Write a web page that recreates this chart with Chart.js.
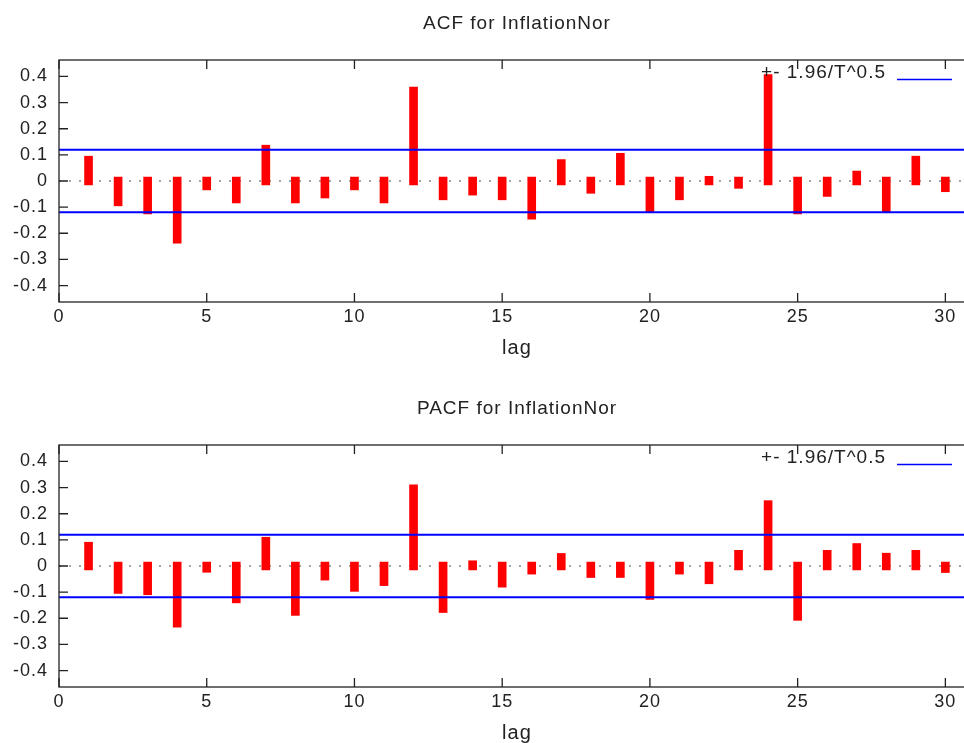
<!DOCTYPE html>
<html>
<head>
<meta charset="utf-8">
<title>ACF / PACF for InflationNor</title>
<script src="https://cdn.jsdelivr.net/npm/chart.js@4.4.0/dist/chart.umd.min.js"></script>
<style>
  html, body { margin: 0; padding: 0; background: #fff; overflow: hidden; }
  .box { position: absolute; left: 0; width: 1034px; height: 385px; }
</style>
</head>
<body>
<div class="box" style="top:0"><canvas id="acfChart"></canvas></div>
<div class="box" style="top:385px"><canvas id="pacfChart"></canvas></div>
<script>
// lags 1..30
const lags = [1, 2, 3, 4, 5, 6, 7, 8, 9, 10, 11, 12, 13, 14, 15,
  16, 17, 18, 19, 20, 21, 22, 23, 24, 25, 26, 27, 28, 29, 30];

const acfValues = [0.080, -0.080, -0.111, -0.223, -0.019, -0.069, 0.122, -0.069, -0.050, -0.019,
  -0.069, 0.344, -0.057, -0.039, -0.057, -0.131, 0.067, -0.032, 0.091, -0.103,
  -0.057, 0.003, -0.013, 0.392, -0.111, -0.044, 0.023, -0.103, 0.080, -0.026];

const pacfValues = [0.076, -0.090, -0.095, -0.219, -0.009, -0.126, 0.095, -0.174, -0.039, -0.082,
  -0.060, 0.296, -0.163, 0.005, -0.066, -0.016, 0.033, -0.029, -0.029, -0.113,
  -0.016, -0.053, 0.045, 0.235, -0.193, 0.045, 0.071, 0.034, 0.045, -0.010];

// +- 1.96/T^0.5 band
const band = 0.12;

const xTicks = [0, 5, 10, 15, 20, 25, 30];
const yTicks = [-0.4, -0.3, -0.2, -0.1, 0, 0.1, 0.2, 0.3, 0.4];
const legendLabel = "+- 1.96/T^0.5";
const xLabel = "lag";

// the plot runs off the right edge of the window, as in the original;
// the original x range was 0..31, its labels sit over the middle of it
const xMax = 33;
const xMid = 15.5;

const FONT = "'Liberation Sans', Arial, Helvetica, sans-serif";
const TEXT = "#222";
// thick impulses have square caps that stick out past both ends
const cap = 0.015;

// wider letter spacing, like the gnuplot text
const spacingPlugin = {
  id: "spacing",
  beforeDraw(chart) {
    chart.ctx.letterSpacing = "1px";
  }
};

// frame, inward tick marks, x label and the key
const framePlugin = {
  id: "frame",
  afterDatasetsDraw(chart) {
    const ctx = chart.ctx;
    const a = chart.chartArea;
    const xs = chart.scales.x;
    const ys = chart.scales.y;
    ctx.save();
    ctx.strokeStyle = TEXT;
    ctx.lineWidth = 1.3;
    ctx.strokeRect(a.left, a.top, a.right - a.left, a.bottom - a.top);
    ctx.beginPath();
    xTicks.forEach(v => {
      let px = xs.getPixelForValue(v);
      ctx.moveTo(px, a.bottom);
      ctx.lineTo(px, a.bottom - 9);
      ctx.moveTo(px, a.top);
      ctx.lineTo(px, a.top + 9);
    });
    yTicks.forEach(v => {
      let py = ys.getPixelForValue(v);
      ctx.moveTo(a.left, py);
      ctx.lineTo(a.left + 9, py);
    });
    ctx.stroke();

    ctx.fillStyle = TEXT;
    ctx.textBaseline = "middle";

    // x axis label
    ctx.font = "20px " + FONT;
    ctx.textAlign = "center";
    ctx.fillText(xLabel, xs.getPixelForValue(xMid), a.bottom + 46);

    // key
    ctx.font = "19px " + FONT;
    ctx.textAlign = "right";
    ctx.fillText(legendLabel, 886, a.top + 13);
    ctx.strokeStyle = "#0000ff";
    ctx.lineWidth = 1.5;
    ctx.beginPath();
    ctx.moveTo(897, a.top + 19.5);
    ctx.lineTo(952, a.top + 19.5);
    ctx.stroke();
    ctx.restore();
  }
};

function makeChart(id, title, values) {
  let bars = lags.map((lag, i) => {
    let v = values[i];
    let s = v >= 0 ? 1 : -1;
    return { x: lag, y: [-s * cap, v + s * cap] };
  });

  return new Chart(document.getElementById(id), {
    type: "bar",
    data: {
      datasets: [
        {
          type: "line",
          data: [{ x: 0, y: band }, { x: xMax, y: band }],
          borderColor: "#0000ff",
          borderWidth: 2,
          pointRadius: 0,
          order: -1,
        },
        {
          type: "line",
          data: [{ x: 0, y: -band }, { x: xMax, y: -band }],
          borderColor: "#0000ff",
          borderWidth: 2,
          pointRadius: 0,
          order: -1,
        },
        {
          data: bars,
          backgroundColor: "#ff0000",
          barThickness: 8,
          order: 0,
        },
        {
          type: "line",
          data: [{ x: 0, y: 0 }, { x: xMax, y: 0 }],
          borderColor: "#888",
          borderWidth: 1.6,
          borderDash: [2, 8],
          pointRadius: 0,
          order: 1,
        },
      ],
    },
    options: {
      responsive: true,
      maintainAspectRatio: false,
      animation: false,
      layout: { padding: 0 },
      plugins: {
        legend: { display: false },
        tooltip: { enabled: false },
        title: {
          display: true,
          text: title,
          color: TEXT,
          font: { family: FONT, size: 19, weight: "normal" },
          padding: { top: 12, bottom: 25.2 },
        },
      },
      scales: {
        x: {
          type: "linear",
          min: 0,
          max: xMax,
          offset: false,
          grid: { display: false, drawTicks: false },
          border: { display: false },
          afterBuildTicks: (scale) => { scale.ticks = xTicks.map(v => ({ value: v })); },
          afterFit: (scale) => { scale.height = 83; },
          ticks: {
            color: TEXT,
            font: { family: FONT, size: 18 },
            padding: 4,
            maxRotation: 0,
            callback: (v) => String(v),
          },
        },
        y: {
          min: -0.463,
          max: 0.463,
          grid: { display: false, drawTicks: false },
          border: { display: false },
          afterBuildTicks: (scale) => { scale.ticks = yTicks.map(v => ({ value: v })); },
          afterFit: (scale) => { scale.width = 59; },
          ticks: {
            color: TEXT,
            font: { family: FONT, size: 18 },
            padding: 11,
            callback: (v) => String(v),
          },
        },
      },
    },
    plugins: [spacingPlugin, framePlugin],
  });
}

makeChart("acfChart", "ACF for InflationNor", acfValues);
makeChart("pacfChart", "PACF for InflationNor", pacfValues);
</script>
</body>
</html>
